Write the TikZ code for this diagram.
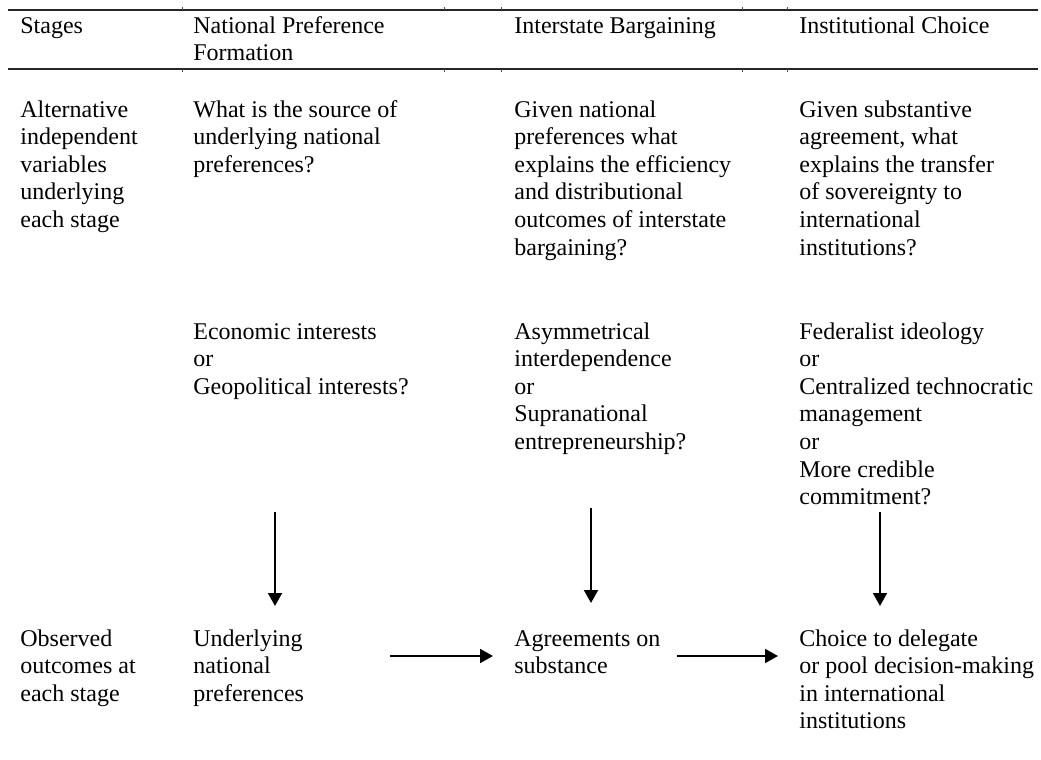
\documentclass[tikz,border=0pt]{standalone}
\usepackage{fontspec}
\setmainfont{Liberation Serif}
\usetikzlibrary{arrows.meta}

\begin{document}
\begin{tikzpicture}[x=0.5pt,y=-0.5pt,>={Triangle[length=6.5pt,width=7pt]},
 cell/.style={anchor=base west,inner sep=0pt,align=left,
  font=\fontsize{12}{13.8}\selectfont},
 rule/.style={line width=0.75pt,black!85},
 flow/.style={->,line width=1pt}]
\useasboundingbox (0,0) rectangle (1041,760);
% table rules
\draw[rule] (8,10) -- (1038,10);
\draw[rule] (8,69) -- (1038,69);
\foreach \t in {182,444,501,742,787}{
 \draw[line width=0.4pt,black!70] (\t,7) -- (\t,10) (\t,69) -- (\t,72);}
% header (placed at the baseline of the last line)
\node[cell] (stages) at (20,33) {Stages};
\node[cell] (hdNat) at (193,60.6) {National Preference\\Formation};
\node[cell] (hdBarg) at (514,33) {Interstate Bargaining};
\node[cell] (hdInst) at (799,33) {Institutional Choice};
% questions
\node[cell] (altVars) at (20,227.4) {Alternative\\independent\\variables\\underlying\\each stage};
\node[cell] (qNat) at (193,172.2) {What is the source of\\underlying national\\preferences?};
\node[cell] (qBarg) at (514,255) {Given national\\preferences what\\explains the efficiency\\and distributional\\outcomes of interstate\\bargaining?};
\node[cell] (qInst) at (799,255) {Given substantive\\agreement, what\\explains the transfer\\of sovereignty to\\international\\institutions?};
% candidate variables
\node[cell] (ivNat) at (193,394.2) {Economic interests\\or\\Geopolitical interests?};
\node[cell] (ivBarg) at (514,449.4) {Asymmetrical\\interdependence\\or\\Supranational\\entrepreneurship?};
\node[cell] (ivInst) at (799,504.6) {Federalist ideology\\or\\Centralized technocratic\\management\\or\\More credible\\commitment?};
% outcomes
\node[cell] (obsOut) at (20,701.2) {Observed\\outcomes at\\each stage};
\node[cell] (outNat) at (193,701.2) {Underlying\\national\\preferences};
\node[cell] (outBarg) at (514,673.6) {Agreements on\\substance};
\node[cell] (outInst) at (799,728.8) {Choice to delegate\\or pool decision-making\\in international\\institutions};
% arrow ends
\coordinate (natTop) at (275,512);
\coordinate (natBot) at (275,606);
\coordinate (bargTop) at (591,508);
\coordinate (bargBot) at (591,603);
\coordinate (instTop) at (880,512);
\coordinate (instBot) at (880,606);
\coordinate (natOut) at (390,656);
\coordinate (bargIn) at (493,656);
\coordinate (bargOut) at (677,656);
\coordinate (instIn) at (778,656);
\draw[flow] (natTop) -- (natBot);
\draw[flow] (bargTop) -- (bargBot);
\draw[flow] (instTop) -- (instBot);
\draw[flow] (natOut) -- (bargIn);
\draw[flow] (bargOut) -- (instIn);
\end{tikzpicture}
\end{document}
